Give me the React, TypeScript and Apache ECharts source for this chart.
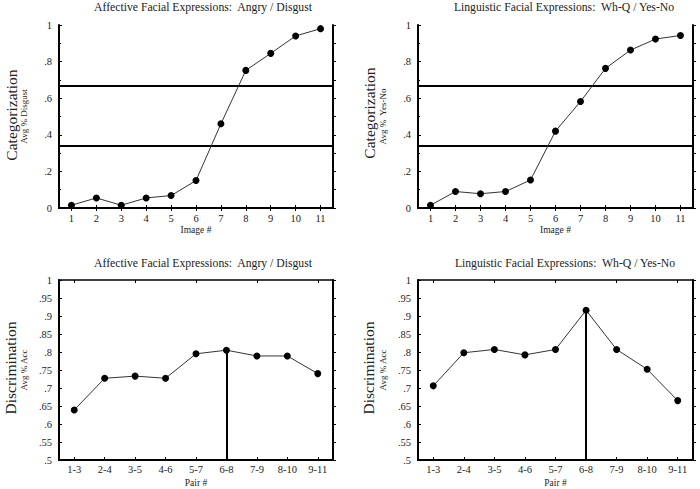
import React, { useEffect, useRef } from "react";
import * as echarts from "echarts";

const imageNumbers = ["1", "2", "3", "4", "5", "6", "7", "8", "9", "10", "11"];
const affectiveCategorization = [0.015, 0.055, 0.015, 0.055, 0.068, 0.15, 0.46, 0.752, 0.845, 0.94, 0.98];
const linguisticCategorization = [0.015, 0.09, 0.078, 0.09, 0.153, 0.42, 0.582, 0.763, 0.863, 0.923, 0.943];
const pairNumbers = ["1-3", "2-4", "3-5", "4-6", "5-7", "6-8", "7-9", "8-10", "9-11"];
const affectiveDiscrimination = [0.639, 0.727, 0.733, 0.727, 0.795, 0.805, 0.789, 0.789, 0.74];
const linguisticDiscrimination = [0.706, 0.798, 0.807, 0.792, 0.807, 0.916, 0.807, 0.752, 0.665];
const boundaryLevels = [0.667, 0.345];
const peakPair = "6-8";
const panelTitles = [
  "Affective Facial Expressions:  Angry / Disgust",
  "Linguistic Facial Expressions:  Wh-Q / Yes-No",
  "Affective Facial Expressions:  Angry / Disgust",
  "Linguistic Facial Expressions:  Wh-Q / Yes-No",
];
const yNames = ["Avg % Disgust", "Avg %  Yes-No", "Avg % Acc", "Avg % Acc"];
const rowLabels = ["Categorization", "Categorization", "Discrimination", "Discrimination"];

const FONT = "Liberation Serif";

const fmt = (v: number) => {
  if (v === 0) return "0";
  if (v === 1) return "1";
  return String(Number(v.toFixed(2))).replace(/^0/, "");
};

export default function App() {
  const ref = useRef<HTMLDivElement>(null);
  useEffect(() => {
    if (!ref.current) return;
    const chart = echarts.init(ref.current, null, { renderer: "svg" });
    const grids = [
      { left: 59, top: 25, width: 274, height: 183 },
      { left: 418, top: 25, width: 275, height: 183 },
      { left: 59, top: 280, width: 274, height: 182 },
      { left: 418, top: 280, width: 275, height: 182 },
    ];
    const cats = [imageNumbers, imageNumbers, pairNumbers, pairNumbers];
    const datas = [affectiveCategorization, linguisticCategorization, affectiveDiscrimination, linguisticDiscrimination];
    const isTop = [true, true, false, false];

    const xAxis: any[] = [];
    const yAxis: any[] = [];
    grids.forEach((g, i) => {
      xAxis.push({
        type: "category",
        gridIndex: i,
        data: cats[i],
        boundaryGap: true,
        name: isTop[i] ? "Image #" : "Pair #",
        nameLocation: "middle",
        nameGap: isTop[i] ? 15 : 18,
        nameTextStyle: { fontFamily: FONT, fontSize: 9.5, color: "#222" },
        axisLine: { show: true, lineStyle: { color: "#000", width: 2 } },
        axisTick: { show: true, inside: true, alignWithLabel: true, length: 3, lineStyle: { color: "#000" } },
        axisLabel: { fontFamily: FONT, fontSize: 10.5, color: "#222", margin: isTop[i] ? 5 : 4, interval: 0 },
        splitLine: { show: false },
      });
    });
    grids.forEach((g, i) => {
      xAxis.push({
        type: "category",
        gridIndex: i,
        position: "top",
        data: cats[i],
        boundaryGap: true,
        axisLine: { show: true, lineStyle: { color: "#000", width: 1.5 } },
        axisTick: { show: true, inside: true, alignWithLabel: true, length: 3, lineStyle: { color: "#000" } },
        axisLabel: { show: false },
        splitLine: { show: false },
      });
    });
    grids.forEach((g, i) => {
      yAxis.push({
        type: "value",
        gridIndex: i,
        min: isTop[i] ? 0 : 0.5,
        max: 1,
        interval: isTop[i] ? 0.2 : 0.05,
        name: yNames[i],
        nameLocation: "middle",
        nameGap: 31,
        nameRotate: 90,
        nameTextStyle: { fontFamily: FONT, fontSize: 9, color: "#222" },
        axisLine: { show: true, lineStyle: { color: "#000", width: 2 } },
        axisTick: { show: true, inside: true, length: 3, lineStyle: { color: "#000" } },
        minorTick: { show: isTop[i], splitNumber: 2, length: 2, lineStyle: { color: "#000" } },
        axisLabel: { fontFamily: FONT, fontSize: 10.5, color: "#222", margin: 7, formatter: fmt },
        splitLine: { show: false },
      });
    });
    grids.forEach((g, i) => {
      yAxis.push({
        type: "value",
        gridIndex: i,
        position: "right",
        min: isTop[i] ? 0 : 0.5,
        max: 1,
        interval: isTop[i] ? 0.1 : 0.05,
        axisLine: { show: true, lineStyle: { color: "#000", width: 2 } },
        axisTick: { show: true, inside: false, length: 3, lineStyle: { color: "#000" } },
        axisLabel: { show: false },
        splitLine: { show: false },
      });
    });

    const series: any[] = datas.map((d, i) => {
      const s: any = {
        type: "line",
        xAxisIndex: i,
        yAxisIndex: i,
        data: d,
        symbol: "circle",
        symbolSize: 7,
        itemStyle: { color: "#000" },
        lineStyle: { color: "#333", width: 1 },
        z: 5,
      };
      if (isTop[i]) {
        s.markLine = {
          silent: true,
          symbol: "none",
          label: { show: false },
          lineStyle: { color: "#000", width: 2, type: "solid" },
          data: boundaryLevels.map((v) => ({ yAxis: v })),
        };
      } else {
        const idx = pairNumbers.indexOf(peakPair);
        s.markLine = {
          silent: true,
          symbol: "none",
          label: { show: false },
          lineStyle: { color: "#000", width: 2, type: "solid" },
          data: [[{ coord: [peakPair, 0.5] }, { coord: [peakPair, d[idx]] }]],
        };
      }
      return s;
    });

    const titleCenters = [
      [203, 7],
      [564, 7],
      [203, 263],
      [565, 263],
    ];
    const rowCenters = [
      [11, 115],
      [369, 113],
      [10, 368],
      [368, 368],
    ];
    const graphic: any[] = [];
    panelTitles.forEach((t, i) => {
      graphic.push({
        type: "text",
        x: titleCenters[i][0],
        y: titleCenters[i][1],
        style: {
          text: t,
          fontFamily: FONT,
          fontSize: 11.7,
          fill: "#222",
          textAlign: "center",
          textVerticalAlign: "middle",
        },
      });
    });
    rowLabels.forEach((t, i) => {
      graphic.push({
        type: "text",
        x: rowCenters[i][0],
        y: rowCenters[i][1],
        rotation: Math.PI / 2,
        style: {
          text: t,
          fontFamily: FONT,
          fontSize: 15.5,
          fill: "#222",
          textAlign: "center",
          textVerticalAlign: "middle",
        },
      });
    });

    chart.setOption({
      animation: false,
      backgroundColor: "#fff",
      grid: grids.map((g) => ({ ...g, show: false })),
      xAxis,
      yAxis,
      series,
      graphic,
    });
    return () => chart.dispose();
  }, []);
  return (
    <div
      ref={ref}
      style={{ position: "fixed", left: 0, top: 0, width: 700, height: 489 }}
    />
  );
}
